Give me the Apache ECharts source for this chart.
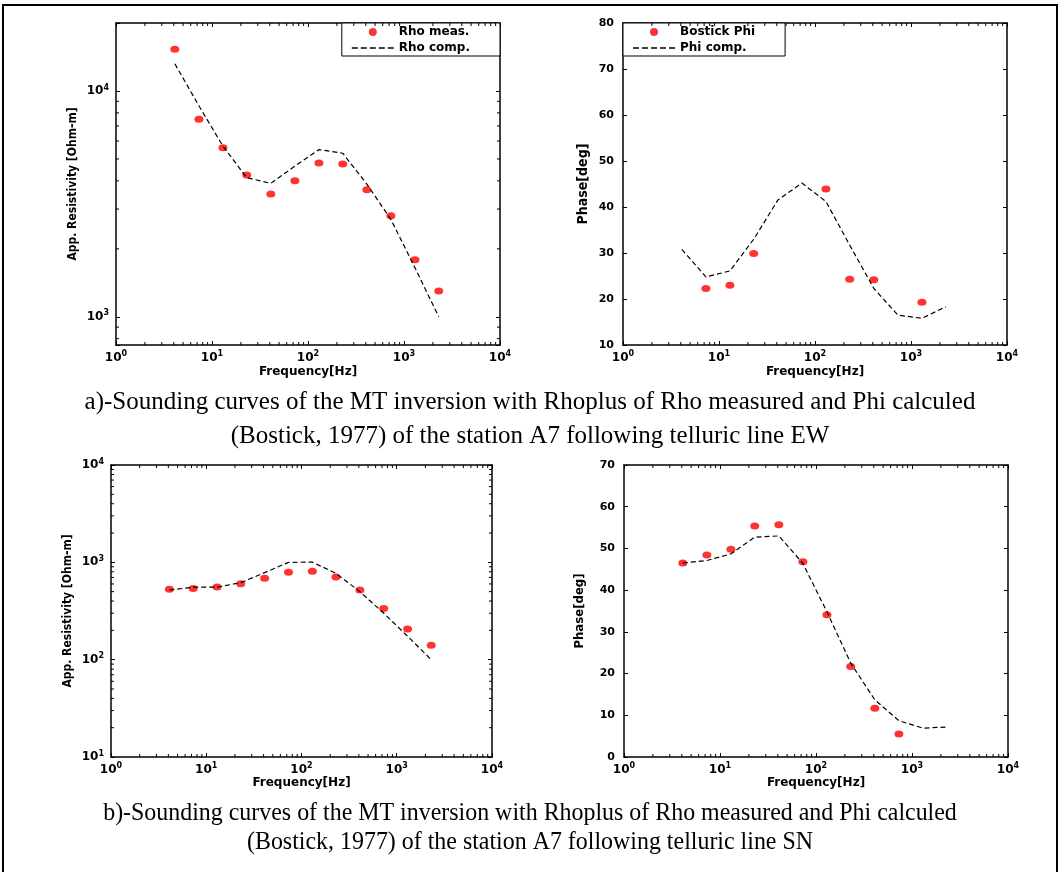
<!DOCTYPE html>
<html><head><meta charset="utf-8">
<script src="https://cdn.jsdelivr.net/npm/echarts@6/dist/echarts.min.js"></script>
<style>html,body{margin:0;padding:0;background:#fff}#c{width:1060px;height:872px}</style>
</head><body><div id="c"></div>
<script>
// ---------- data ----------
const freq = [4.1, 7.3, 13, 23, 41, 73, 130, 230, 410, 730, 1300, 2300];
// a) line EW
const rhoMeasEW = [15300, 7500, 5600, 4250, 3500, 4000, 4800, 4750, 3650, 2800, 1790, 1300];
const rhoCompEW = [13200, 8600, 5700, 4130, 3900, 4650, 5500, 5300, 3870, 2700, 1650, 1000];
const phiMeasEW = [null, 22.3, 23.0, 29.9, null, null, 43.9, 24.3, 24.2, null, 19.3, null];
const phiCompEW = [30.8, 24.8, 26.1, 33.0, 41.5, 45.2, 41.2, 31.7, 22.3, 16.5, 15.8, 18.3];
// b) line SN
const rhoMeasSN = [529, 537, 559, 604, 685, 791, 809, 708, 521, 335, 207, 141];
const rhoCompSN = [520, 555, 555, 618, 783, 1000, 1005, 771, 500, 300, 174, 100];
const phiMeasSN = [46.5, 48.4, 49.8, 55.4, 55.7, 46.8, 34.1, 21.7, 11.7, 5.5, null, null];
const phiCompSN = [46.5, 47.1, 48.7, 52.7, 53.0, 46.4, 34.8, 22.5, 13.7, 8.7, 6.9, 7.2];
// axes
const freqRange = [1, 10000];
const rhoRangeEW = [750, 20000];
const rhoRangeSN = [10, 10000];
const phiRangeEW = [10, 80];
const phiRangeSN = [0, 70];
const xTitle = 'Frequency[Hz]';
const rhoTitle = 'App. Resistivity [Ohm-m]';
const phiTitle = 'Phase[deg]';
const legendEW1 = ['Rho meas.', 'Rho comp.'];
const legendEW2 = ['Bostick Phi', 'Phi comp.'];
const captionA = ['a)-Sounding curves of the MT inversion with Rhoplus of Rho measured and Phi calculed',
                  '(Bostick, 1977) of the station A7 following telluric line EW'];
const captionB = ['b)-Sounding curves of the MT inversion with Rhoplus of Rho measured and Phi calculed',
                  '(Bostick, 1977) of the station A7 following telluric line SN'];

// ---------- helpers ----------
const SANS = '"DejaVu Sans", sans-serif';
const NARROW = '"Liberation Sans Narrow", "DejaVu Sans Condensed", sans-serif';
const SERIF = '"Liberation Serif", "Times New Roman", serif';
const DASH_ICON = 'path://M0 0H6V1.3H0Z M9 0H15V1.3H9Z M18 0H24V1.3H18Z M27 0H33V1.3H27Z M36 0H42V1.3H36Z';

function pairs(xs, ys) { return xs.map((x, i) => [x, ys[i]]).filter(p => p[1] != null); }
function minorVals(lo, hi) {
  const out = [];
  for (let e = Math.floor(Math.log10(lo)); e <= Math.ceil(Math.log10(hi)); e++) {
    for (let k = 2; k <= 9; k++) { const v = k * Math.pow(10, e); if (v > lo * 1.0001 && v < hi * 0.9999) out.push(v); }
  }
  return out;
}
const powRich = {
  b: { fontSize: 12, fontWeight: 'bold', fontFamily: SANS, color: '#000', lineHeight: 15 },
  e: { fontSize: 8, fontWeight: 'bold', fontFamily: SANS, color: '#000', verticalAlign: 'top', lineHeight: 9 }
};
function powFmt(v) {
  const e = Math.log10(v);
  if (Math.abs(e - Math.round(e)) > 1e-6) return '';
  return '{b|10}{e|' + Math.round(e) + '}';
}
const AX = { lineStyle: { color: '#000', width: 1.5 }, onZero: false };
const TICK = { show: true, inside: true, length: 4, lineStyle: { color: '#000', width: 1 } };

const panels = [
  { g: { left: 116, top: 23, width: 384, height: 322 }, yLog: true, yr: rhoRangeEW, yName: rhoTitle,
    yFont: { fontFamily: NARROW, fontWeight: 'bold', fontSize: 12 }, yGap: 37, xGap: 21 },
  { g: { left: 623, top: 23, width: 384, height: 322 }, yLog: false, yr: phiRangeEW, yName: phiTitle,
    yFont: { fontFamily: NARROW, fontWeight: 'bold', fontSize: 14 }, yGap: 33, xGap: 21 },
  { g: { left: 111, top: 465, width: 381, height: 292 }, yLog: true, yr: rhoRangeSN, yName: rhoTitle,
    yFont: { fontFamily: NARROW, fontWeight: 'bold', fontSize: 12 }, yGap: 37, xGap: 20 },
  { g: { left: 624, top: 465, width: 384, height: 292 }, yLog: false, yr: phiRangeSN, yName: phiTitle,
    yFont: { fontFamily: NARROW, fontWeight: 'bold', fontSize: 13 }, yGap: 38, xGap: 20 }
];

const grid = [], xAxis = [], yAxis = [], series = [];
panels.forEach((p, i) => {
  grid.push(Object.assign({ containLabel: false }, p.g));
  xAxis.push({ type: 'log', logBase: 10, gridIndex: i, min: freqRange[0], max: freqRange[1], position: 'bottom',
    axisLine: AX, axisTick: TICK, splitLine: { show: false },
    axisLabel: { formatter: powFmt, rich: powRich, margin: 5, showMinLabel: true, showMaxLabel: true },
    name: xTitle, nameLocation: 'middle', nameGap: p.xGap,
    nameTextStyle: { fontFamily: SANS, fontWeight: 'bold', fontSize: 12, color: '#000' } });
  xAxis.push({ type: 'log', logBase: 10, gridIndex: i, min: freqRange[0], max: freqRange[1], position: 'top',
    axisLine: AX, axisTick: TICK, splitLine: { show: false }, axisLabel: { show: false } });
  const yBase = p.yLog
    ? { type: 'log', logBase: 10, min: p.yr[0], max: p.yr[1] }
    : { type: 'value', min: p.yr[0], max: p.yr[1], interval: 10 };
  yAxis.push(Object.assign({}, yBase, { gridIndex: i, position: 'left', axisLine: AX, axisTick: TICK,
    splitLine: { show: false },
    axisLabel: p.yLog ? { formatter: powFmt, rich: powRich, margin: 7 }
                      : { fontFamily: SANS, fontWeight: 'bold', fontSize: 11, color: '#000', margin: 9 },
    name: p.yName, nameLocation: 'middle', nameGap: p.yGap,
    nameTextStyle: Object.assign({ color: '#000' }, p.yFont) }));
  yAxis.push(Object.assign({}, yBase, { gridIndex: i, position: 'right', axisLine: AX, axisTick: TICK,
    splitLine: { show: false }, axisLabel: { show: false } }));

  // minor ticks (log axes) drawn through the axis scales
  const xi = 2 * i, yi = 2 * i;
  const yRef = p.yLog ? p.yr[0] * 1.5 : p.yr[0] + 1;
  series.push({
    type: 'custom', xAxisIndex: xi, yAxisIndex: yi, silent: true, z: 5, clip: false,
    data: minorVals(freqRange[0], freqRange[1]).map(v => [v, yRef]),
    renderItem: (params, api) => {
      const cs = params.coordSys;
      const x = api.coord([api.value(0), api.value(1)])[0];
      const st = { stroke: '#000', lineWidth: 1 };
      return { type: 'group', children: [
        { type: 'line', shape: { x1: x, y1: cs.y + cs.height, x2: x, y2: cs.y + cs.height - 3 }, style: st },
        { type: 'line', shape: { x1: x, y1: cs.y, x2: x, y2: cs.y + 3 }, style: st }
      ] };
    }
  });
  if (p.yLog) {
    series.push({
      type: 'custom', xAxisIndex: xi, yAxisIndex: yi, silent: true, z: 5, clip: false,
      data: minorVals(p.yr[0], p.yr[1]).map(v => [10, v]),
      renderItem: (params, api) => {
        const cs = params.coordSys;
        const y = api.coord([api.value(0), api.value(1)])[1];
        const st = { stroke: '#000', lineWidth: 1 };
        return { type: 'group', children: [
          { type: 'line', shape: { x1: cs.x, y1: y, x2: cs.x + 3, y2: y }, style: st },
          { type: 'line', shape: { x1: cs.x + cs.width, y1: y, x2: cs.x + cs.width - 3, y2: y }, style: st }
        ] };
      }
    });
  }
});

const dotStyle = { color: '#ff0000' };
const dashStyle = { color: '#000', width: 1.2, type: [5, 3] };
function addPanel(i, measName, meas, compName, comp) {
  series.push({ name: measName, type: 'scatter', xAxisIndex: 2 * i, yAxisIndex: 2 * i,
    symbol: 'circle', symbolSize: [9, 7], itemStyle: dotStyle, z: 3, data: pairs(freq, meas) });
  series.push({ name: compName, type: 'line', xAxisIndex: 2 * i, yAxisIndex: 2 * i,
    symbol: 'none', lineStyle: dashStyle, itemStyle: { color: '#000' }, z: 4, data: pairs(freq, comp) });
}
addPanel(0, legendEW1[0], rhoMeasEW, legendEW1[1], rhoCompEW);
addPanel(1, legendEW2[0], phiMeasEW, legendEW2[1], phiCompEW);
addPanel(2, 'Rho meas. SN', rhoMeasSN, 'Rho comp. SN', rhoCompSN);
addPanel(3, 'Bostick Phi SN', phiMeasSN, 'Phi comp. SN', phiCompSN);

function legendCfg(names, pos) {
  return Object.assign({
    orient: 'vertical', itemWidth: 42, itemHeight: 8, itemGap: 2, align: 'left',
    padding: [2, 30, 1, 10], borderColor: '#000', borderWidth: 1, backgroundColor: '#fff',
    selectedMode: false, borderRadius: 0,
    textStyle: { fontFamily: SANS, fontWeight: 'bold', fontSize: 12, color: '#000', lineHeight: 14 },
    data: [{ name: names[0], icon: 'circle', itemStyle: { color: '#ff0000' } },
           { name: names[1], icon: DASH_ICON, itemStyle: { color: '#000' } }]
  }, pos);
}

const graphic = [
  { type: 'rect', shape: { x: 3, y: 5, width: 1054, height: 900 }, style: { fill: 'none', stroke: '#000', lineWidth: 2 }, silent: true },
  { type: 'text', x: 530, y: 402, style: { text: captionA[0], textAlign: 'center', textVerticalAlign: 'middle', font: '25px ' + SERIF, fill: '#000' } },
  { type: 'text', x: 530, y: 436, style: { text: captionA[1], textAlign: 'center', textVerticalAlign: 'middle', font: '25px ' + SERIF, fill: '#000' } },
  { type: 'text', x: 530, y: 813, scaleX: 0.92, style: { text: captionB[0], textAlign: 'center', textVerticalAlign: 'middle', font: '26px ' + SERIF, fill: '#000' } },
  { type: 'text', x: 530, y: 842, scaleX: 0.92, style: { text: captionB[1], textAlign: 'center', textVerticalAlign: 'middle', font: '26px ' + SERIF, fill: '#000' } }
];

const chart = echarts.init(document.getElementById('c'), null, { renderer: 'canvas' });
chart.setOption({
  backgroundColor: '#fff',
  animation: false,
  grid, xAxis, yAxis, series, graphic,
  legend: [ legendCfg(legendEW1, { right: 560, top: 23 }), legendCfg(legendEW2, { left: 623, top: 23 }) ]
});
</script></body></html>
